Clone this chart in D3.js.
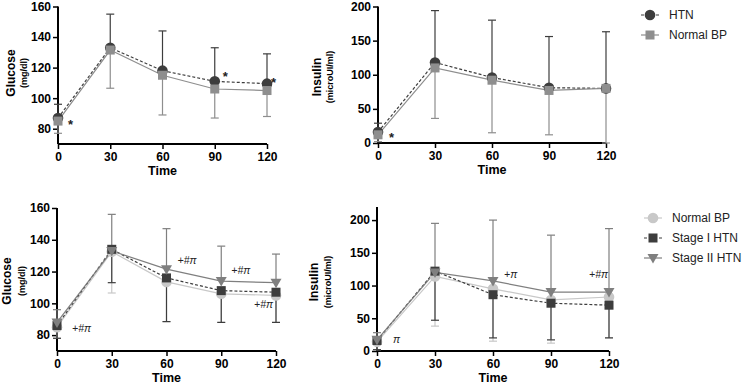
<!DOCTYPE html>
<html>
<head>
<meta charset="utf-8">
<script src="https://cdn.jsdelivr.net/npm/d3@7"></script>
<style>
  body { margin: 0; background: #fff; }
  text { font-family: "Liberation Sans", Arial, sans-serif; }
  .tick text { font-weight: bold; font-size: 12px; }
</style>
</head>
<body>
<svg width="745" height="390"></svg>
<script>
// time points (min)
var times = [0, 30, 60, 90, 120];

// top row: HTN vs Normal BP
var htnGlucose = [87, 133, 118, 111, 109.5];
var htnGlucoseErr = [9, 22, 26, 22, 19.5];
var normGlucose = [85, 131.5, 115, 106, 105];
var normGlucoseErr = [8, 25, 26, 19, 17];

var htnInsulin = [16, 118, 96, 81, 80];
var htnInsulinErr = [13, 76, 84, 75, 83];
var normInsulin = [12, 110, 92, 77, 80];
var normInsulinErr = [10, 74, 77, 65, 80];

// bottom row: Normal BP, Stage I HTN, Stage II HTN
var nbpGlucose = [85, 132.5, 113.5, 106, 105];
var nbpGlucoseErr = [7, 26, 25, 18, 17];
var s1Glucose = [86, 134, 116, 108, 107];
var s1GlucoseErr = [8, 21, 27.5, 20, 19];
var s2Glucose = [88, 133, 121.5, 114, 113];
var s2GlucoseErr = [8, 23, 25.5, 22, 18];

var nbpInsulin = [14, 114, 95, 78, 82.5];
var nbpInsulinErr = [12, 76, 80, 66, 62];
var s1Insulin = [16, 122, 86, 73, 70];
var s1InsulinErr = [14, 75, 66, 56, 50];
var s2Insulin = [17, 120, 107, 90, 90];
var s2InsulinErr = [11, 75, 93, 87, 97];

var svg = d3.select('svg');

function drawPanel(p) {
  var x = d3.scaleLinear().domain([0, 120]).range(p.xr);
  var y = d3.scaleLinear().domain(p.yd).range(p.yr);
  var g = svg.append('g');

  g.append('g')
    .attr('transform', 'translate(0,' + p.yr[0] + ')')
    .call(d3.axisBottom(x).tickValues(times).tickSize(5).tickPadding(3))
    .call(function(a) {
      a.select('.domain').attr('stroke-width', 2).attr('d', 'M' + p.xr[0] + ',0H' + p.xr[1]);
      a.selectAll('.tick line').attr('stroke-width', 1.5);
    });
  g.append('g')
    .attr('transform', 'translate(' + p.xr[0] + ',0)')
    .call(d3.axisLeft(y).tickValues(p.yt).tickSize(5).tickPadding(2))
    .call(function(a) {
      a.select('.domain').attr('stroke-width', 2).attr('d', 'M0,' + p.yr[0] + 'V' + p.yr[1]);
      a.selectAll('.tick line').attr('stroke-width', 1.5);
    });

  g.append('text').attr('x', (p.xr[0] + p.xr[1]) / 2).attr('y', p.yr[0] + 31)
    .attr('text-anchor', 'middle').attr('font-weight', 'bold').attr('font-size', 12.5).text('Time');

  // y title: main word plus smaller unit line
  var lab = g.append('text').attr('text-anchor', 'middle').attr('font-weight', 'bold')
    .attr('transform', 'translate(' + p.lx + ',' + p.ly + ') rotate(-90)');
  lab.append('tspan').attr('x', 0).attr('y', 0).attr('font-size', 12).text(p.label);
  lab.append('tspan').attr('x', 0).attr('y', p.udy).attr('font-size', 9).text(p.unit);

  var line = d3.line().x(function(d, i) { return x(times[i]); }).y(function(d) { return y(d); });

  p.series.forEach(function(s) {
    var eb = g.append('g').attr('stroke', s.color).attr('stroke-width', 1.2);
    s.values.forEach(function(v, i) {
      var end = s.dir === 'up' ? v + s.err[i] : v - s.err[i];
      var cx = x(times[i]);
      eb.append('line').attr('x1', cx).attr('x2', cx).attr('y1', y(v)).attr('y2', y(end));
      eb.append('line').attr('x1', cx - 4).attr('x2', cx + 4).attr('y1', y(end)).attr('y2', y(end));
    });
  });

  p.series.forEach(function(s) {
    g.append('path').datum(s.values).attr('d', line).attr('fill', 'none')
      .attr('stroke', s.color).attr('stroke-width', 1.2)
      .attr('stroke-dasharray', s.dash ? '3,2' : null);
  });

  p.series.forEach(function(s) {
    s.values.forEach(function(v, i) {
      drawMarker(g, s.shape, x(times[i]), y(v), s.color);
    });
  });

  p.notes.forEach(function(n) {
    g.append('text').attr('x', x(n.t) + n.dx).attr('y', y(n.v))
      .attr('font-size', n.text === '*' ? 13 : 10.5).attr('font-style', n.text === '*' ? null : 'italic')
      .attr('font-weight', n.text === '*' ? 'bold' : null)
      .attr('fill', '#222').text(n.text);
  });
}

function drawMarker(g, shape, cx, cy, color) {
  if (shape === 'circle') {
    g.append('circle').attr('cx', cx).attr('cy', cy).attr('r', 5.3).attr('fill', color);
  } else if (shape === 'square') {
    g.append('rect').attr('x', cx - 4.5).attr('y', cy - 4.5).attr('width', 9).attr('height', 9).attr('fill', color);
  } else {
    g.append('path').attr('d', 'M' + (cx - 5.5) + ',' + (cy - 4) + 'H' + (cx + 5.5) + 'L' + cx + ',' + (cy + 5.5) + 'Z')
      .attr('fill', color);
  }
}

function drawLegend(x0, y0, items) {
  items.forEach(function(s, i) {
    var yy = y0 + i * 20;
    svg.append('line').attr('x1', x0 - 9).attr('x2', x0 + 9).attr('y1', yy).attr('y2', yy)
      .attr('stroke', s.color).attr('stroke-width', 1.2).attr('stroke-dasharray', s.dash ? '3,2' : null);
    drawMarker(svg, s.shape, x0, yy, s.color);
    svg.append('text').attr('x', x0 + 19).attr('y', yy + 4).attr('font-size', 12).attr('fill', '#222').text(s.name);
  });
}

var cHTN = '#3d3d3d', cNorm = '#8e8e8e';
var cS1 = '#3d3d3d', cS2 = '#7f7f7f', cNbp = '#c8c8c8';

drawPanel({
  xr: [58, 267], yd: [70, 160], yr: [144, 6.5], yt: [80, 100, 120, 140, 160],
  lx: 15, ly: 73, udy: 12, label: 'Glucose', unit: '(mg/dl)',
  series: [
    { values: htnGlucose, err: htnGlucoseErr, dir: 'up', color: cHTN, shape: 'circle', dash: true },
    { values: normGlucose, err: normGlucoseErr, dir: 'down', color: cNorm, shape: 'square' }
  ],
  notes: [{ t: 0, v: 80, dx: 10, text: '*' }, { t: 90, v: 111, dx: 8, text: '*' }, { t: 120, v: 107.5, dx: 4, text: '*' }]
});

drawPanel({
  xr: [378, 606], yd: [0, 200], yr: [143, 6.5], yt: [0, 50, 100, 150, 200],
  lx: 321, ly: 77, udy: 12, label: 'Insulin', unit: '(microUI/ml)',
  series: [
    { values: htnInsulin, err: htnInsulinErr, dir: 'up', color: cHTN, shape: 'circle', dash: true },
    { values: normInsulin, err: normInsulinErr, dir: 'down', color: cNorm, shape: 'square' }
  ],
  notes: [{ t: 0, v: 2, dx: 11, text: '*' }]
});

drawPanel({
  xr: [57, 276], yd: [70, 160], yr: [351, 208], yt: [80, 100, 120, 140, 160],
  lx: 11, ly: 281, udy: 14, label: 'Glucose', unit: '(mg/dl)',
  series: [
    { values: nbpGlucose, err: nbpGlucoseErr, dir: 'down', color: cNbp, shape: 'circle' },
    { values: s1Glucose, err: s1GlucoseErr, dir: 'down', color: cS1, shape: 'square', dash: true },
    { values: s2Glucose, err: s2GlucoseErr, dir: 'up', color: cS2, shape: 'tri' }
  ],
  notes: [{ t: 0, v: 82, dx: 15, text: '+#π' }, { t: 60, v: 125, dx: 11, text: '+#π' },
          { t: 90, v: 118.5, dx: 10, text: '+#π' }, { t: 120, v: 97, dx: -22, text: '+#π' }]
});

drawPanel({
  xr: [377, 609], yd: [0, 220], yr: [351, 207], yt: [0, 50, 100, 150, 200],
  lx: 318, ly: 282, udy: 13, label: 'Insulin', unit: '(microUI/ml)',
  series: [
    { values: nbpInsulin, err: nbpInsulinErr, dir: 'down', color: cNbp, shape: 'circle' },
    { values: s1Insulin, err: s1InsulinErr, dir: 'down', color: cS1, shape: 'square', dash: true },
    { values: s2Insulin, err: s2InsulinErr, dir: 'up', color: cS2, shape: 'tri' }
  ],
  notes: [{ t: 0, v: 12, dx: 16, text: 'π' }, { t: 60, v: 112, dx: 11, text: '+π' },
          { t: 120, v: 112, dx: -20, text: '+#π' }]
});

drawLegend(650, 15, [
  { name: 'HTN', color: cHTN, shape: 'circle', dash: true },
  { name: 'Normal BP', color: cNorm, shape: 'square' }
]);
drawLegend(653, 218, [
  { name: 'Normal BP', color: cNbp, shape: 'circle' },
  { name: 'Stage I HTN', color: cS1, shape: 'square', dash: true },
  { name: 'Stage II HTN', color: cS2, shape: 'tri' }
]);
</script>
</body>
</html>
